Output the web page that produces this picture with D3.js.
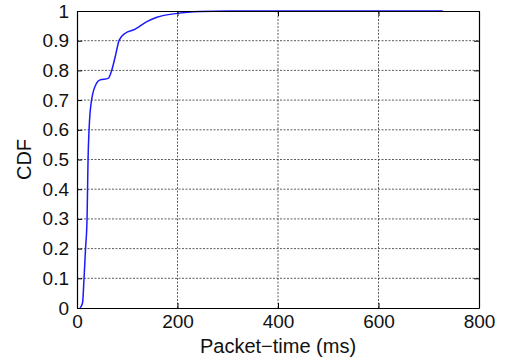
<!DOCTYPE html>
<html>
<head>
<meta charset="utf-8">
<script src="https://cdn.jsdelivr.net/npm/d3@7"></script>
<style>
  html, body { margin: 0; padding: 0; background: #fff; }
  svg { display: block; font-family: "Liberation Sans", Arial, Helvetica, sans-serif; }
</style>
</head>
<body>
<svg id="chart" width="509" height="360"></svg>
<script>
// CDF of packet time (ms)
const packetTimeMs = [6, 11, 14, 17, 20, 21, 22, 24, 29, 39, 46, 62, 69, 76, 84, 96, 115, 139, 159, 200, 245, 300, 728];
const cdfValues    = [0, 0.017, 0.1, 0.2, 0.3, 0.4, 0.5, 0.6, 0.7, 0.757, 0.768, 0.773, 0.80, 0.846, 0.902, 0.925, 0.938, 0.964, 0.979, 0.992, 0.998, 1.0, 1.0];
const xTicks = [0, 200, 400, 600, 800];
const yTicks = [0, 0.1, 0.2, 0.3, 0.4, 0.5, 0.6, 0.7, 0.8, 0.9, 1];
const xLabel = "Packet\u2212time (ms)";
const yLabel = "CDF";

const margin = { left: 77, right: 30, top: 11, bottom: 52 };
const W = 509, H = 360;
const svg = d3.select("#chart");

const x = d3.scaleLinear().domain([0, 800]).range([margin.left, W - margin.right]);
const y = d3.scaleLinear().domain([0, 1]).range([H - margin.bottom, margin.top]);

// dotted grid
const grid = svg.append("g").attr("stroke", "#333").attr("stroke-width", 0.8)
  .attr("stroke-dasharray", "2,1.5");
grid.selectAll(".gx").data(xTicks.slice(1, -1)).join("line")
  .attr("x1", d => x(d)).attr("x2", d => x(d))
  .attr("y1", y(0)).attr("y2", y(1));
grid.selectAll(".gy").data(yTicks.slice(1, -1)).join("line")
  .attr("x1", x(0)).attr("x2", x(800))
  .attr("y1", d => y(d)).attr("y2", d => y(d));

// data line
const data = packetTimeMs.map((t, i) => [t, cdfValues[i]]);
svg.append("path").datum(data)
  .attr("fill", "none").attr("stroke", "#1a1aff").attr("stroke-width", 1.5)
  .attr("d", d3.line().x(d => x(d[0])).y(d => y(d[1])).curve(d3.curveMonotoneX));

// axes (ticks pointing inward)
const fmtY = d => d === 0 || d === 1 ? String(d) : d3.format(".1f")(d);
svg.append("g").attr("transform", `translate(0,${y(0)})`)
  .call(d3.axisBottom(x).tickValues(xTicks).tickSizeInner(-5).tickSizeOuter(0).tickPadding(7));
svg.append("g").attr("transform", `translate(${x(0)},0)`)
  .call(d3.axisLeft(y).tickValues(yTicks).tickFormat(fmtY).tickSizeInner(-5).tickSizeOuter(0).tickPadding(8));
svg.append("g").attr("transform", `translate(0,${y(1)})`)
  .call(d3.axisTop(x).tickValues(xTicks).tickSizeInner(-5).tickSizeOuter(0).tickFormat(""));
svg.append("g").attr("transform", `translate(${x(800)},0)`)
  .call(d3.axisRight(y).tickValues(yTicks).tickSizeInner(-5).tickSizeOuter(0).tickFormat(""));

svg.selectAll(".domain").attr("stroke", "#000").attr("stroke-width", 1.2);
svg.selectAll(".tick line").attr("stroke", "#000");
svg.selectAll(".tick text").attr("font-size", 19).attr("fill", "#111")
  .attr("font-family", "Liberation Sans, Arial, sans-serif");

// axis labels
svg.append("text").attr("x", (x(0) + x(800)) / 2).attr("y", 353)
  .attr("text-anchor", "middle").attr("font-size", 20).attr("fill", "#111").text(xLabel);
svg.append("text").attr("transform", `translate(31,${(y(0) + y(1)) / 2}) rotate(-90)`)
  .attr("text-anchor", "middle").attr("font-size", 20).attr("fill", "#111").text(yLabel);
</script>
</body>
</html>
